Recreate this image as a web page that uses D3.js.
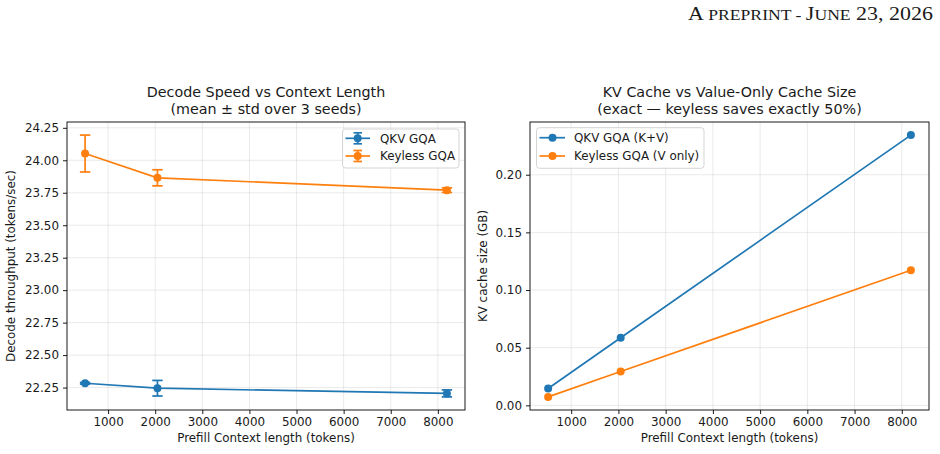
<!DOCTYPE html>
<html>
<head>
<meta charset="utf-8">
<script src="https://cdn.jsdelivr.net/npm/d3@7"></script>
<style>
  html, body { margin: 0; padding: 0; background: #fff; }
  svg { display: block; }
  text { font-family: "DejaVu Sans", sans-serif; fill: #1a1a1a; }
</style>
</head>
<body>
<svg id="chart" width="940" height="454"></svg>
<script>
// ---------------- data ----------------
const contextLengths = [512, 2048, 8192];
const xTicks = [1000, 2000, 3000, 4000, 5000, 6000, 7000, 8000];

const qkvSpeed = [22.283, 22.245, 22.205];
const qkvSpeedStd = [0.006, 0.060, 0.027];
const keylessSpeed = [24.052, 23.865, 23.770];
const keylessSpeedStd = [0.142, 0.062, 0.018];
const speedTicks = [22.25, 22.50, 22.75, 23.00, 23.25, 23.50, 23.75, 24.00, 24.25];

const qkvCacheGB = [0.0146484, 0.0585938, 0.234375];
const keylessCacheGB = [0.0073242, 0.0292969, 0.1171875];
const cacheTicks = [0.00, 0.05, 0.10, 0.15, 0.20];

const seriesNames = ["QKV GQA", "Keyless GQA"];
const cacheNames = ["QKV GQA (K+V)", "Keyless GQA (V only)"];
const colors = ["#1f77b4", "#ff7f0e"];

// ---------------- helpers ----------------
const svg = d3.select("#chart");
const FS = 11.9, TFS = 14.3;

function padDomain(lo, hi) { const p = (hi - lo) * 0.05; return [lo - p, hi + p]; }

function drawAxes(g, x, y, yTicks, yFmt, L, R, T, B) {
  g.append("g").selectAll("line").data(xTicks).join("line")
    .attr("x1", d => x(d)).attr("x2", d => x(d)).attr("y1", T).attr("y2", B)
    .attr("stroke", "#b0b0b0").attr("stroke-opacity", 0.3).attr("stroke-width", 0.9);
  g.append("g").selectAll("line").data(yTicks).join("line")
    .attr("x1", L).attr("x2", R).attr("y1", d => y(d)).attr("y2", d => y(d))
    .attr("stroke", "#b0b0b0").attr("stroke-opacity", 0.3).attr("stroke-width", 0.9);
  const xa = g.append("g").attr("transform", `translate(0,${B})`)
    .call(d3.axisBottom(x).tickValues(xTicks).tickFormat(d3.format("d")).tickSize(4).tickPadding(4));
  const ya = g.append("g").attr("transform", `translate(${L},0)`)
    .call(d3.axisLeft(y).tickValues(yTicks).tickFormat(yFmt).tickSize(4).tickPadding(4));
  [xa, ya].forEach(a => {
    a.select(".domain").remove();
    a.selectAll("line").attr("stroke", "#000").attr("stroke-width", 0.9);
    a.selectAll("text").attr("font-size", FS).attr("font-family", "DejaVu Sans").attr("fill", "#1a1a1a");
  });
  xa.selectAll("text").attr("dy", "0.71em").attr("y", 7.5);
}

function frame(g, L, R, T, B) {
  g.append("rect").attr("x", L).attr("y", T).attr("width", R - L).attr("height", B - T)
    .attr("fill", "none").attr("stroke", "#000").attr("stroke-width", 0.9);
}

// ---------------- header (small caps built from tspans) ----------------
{
  const headerParts = [["A", true], [" preprint - ", false], ["J", true], ["une", false], [" 23, 2026", true]];
  const ht = svg.append("text").attr("x", 688).attr("y", 20)
    .attr("textLength", 245).attr("lengthAdjust", "spacingAndGlyphs")
    .style("font-family", "'Liberation Serif', serif").attr("fill", "#111");
  headerParts.forEach(([s, big]) => {
    ht.append("tspan").attr("font-size", big ? 19.2 : 15.4).text(big ? s : s.toUpperCase());
  });
}

// ---------------- left plot ----------------
{
  const L = 67, R = 465, T = 122, B = 410;
  const g = svg.append("g");
  const x = d3.scaleLinear().domain(padDomain(d3.min(contextLengths), d3.max(contextLengths))).range([L, R]);
  const lo = d3.min([...qkvSpeed.map((v, i) => v - qkvSpeedStd[i]), ...keylessSpeed.map((v, i) => v - keylessSpeedStd[i])]);
  const hi = d3.max([...qkvSpeed.map((v, i) => v + qkvSpeedStd[i]), ...keylessSpeed.map((v, i) => v + keylessSpeedStd[i])]);
  const y = d3.scaleLinear().domain(padDomain(lo, hi)).range([B, T]);
  drawAxes(g, x, y, speedTicks, d3.format(".2f"), L, R, T, B);

  const series = [[qkvSpeed, qkvSpeedStd], [keylessSpeed, keylessSpeedStd]];
  series.forEach(([vals, errs], si) => {
    const c = colors[si];
    const pts = contextLengths.map((xv, i) => ({ x: xv, y: vals[i], e: errs[i] }));
    g.append("path").datum(pts)
      .attr("d", d3.line().x(d => x(d.x)).y(d => y(d.y)))
      .attr("fill", "none").attr("stroke", c).attr("stroke-width", 1.7);
    const eg = g.append("g").attr("stroke", c).attr("stroke-width", 1.7);
    pts.forEach(d => {
      const cx = x(d.x), y1 = y(d.y + d.e), y2 = y(d.y - d.e);
      eg.append("line").attr("x1", cx).attr("x2", cx).attr("y1", y1).attr("y2", y2);
      eg.append("line").attr("x1", cx - 5.2).attr("x2", cx + 5.2).attr("y1", y1).attr("y2", y1);
      eg.append("line").attr("x1", cx - 5.2).attr("x2", cx + 5.2).attr("y1", y2).attr("y2", y2);
    });
    g.append("g").selectAll("circle").data(pts).join("circle")
      .attr("cx", d => x(d.x)).attr("cy", d => y(d.y)).attr("r", 4).attr("fill", c);
  });
  frame(g, L, R, T, B);

  g.append("text").attr("x", (L + R) / 2).attr("y", 97).attr("text-anchor", "middle").attr("font-size", TFS)
    .text("Decode Speed vs Context Length");
  g.append("text").attr("x", (L + R) / 2).attr("y", 113.6).attr("text-anchor", "middle").attr("font-size", TFS)
    .text("(mean ± std over 3 seeds)");
  g.append("text").attr("x", (L + R) / 2).attr("y", 442).attr("text-anchor", "middle").attr("font-size", FS)
    .text("Prefill Context length (tokens)");
  g.append("text").attr("transform", `translate(15,${(T + B) / 2}) rotate(-90)`).attr("text-anchor", "middle").attr("font-size", FS)
    .text("Decode throughput (tokens/sec)");

  const lx = 342.5, ly = 129, lw = 116.5, lh = 39;
  g.append("rect").attr("x", lx).attr("y", ly).attr("width", lw).attr("height", lh).attr("rx", 3)
    .attr("fill", "#fff").attr("fill-opacity", 0.8).attr("stroke", "#d0d0d0").attr("stroke-width", 0.9);
  seriesNames.forEach((nm, i) => {
    const yy = 138.3 + i * 17.7, c = colors[i];
    const hg = g.append("g").attr("stroke", c).attr("stroke-width", 1.7);
    hg.append("line").attr("x1", 345.5).attr("x2", 370).attr("y1", yy).attr("y2", yy);
    hg.append("line").attr("x1", 357.7).attr("x2", 357.7).attr("y1", yy - 5.5).attr("y2", yy + 5.5);
    hg.append("line").attr("x1", 353.5).attr("x2", 362).attr("y1", yy - 5.5).attr("y2", yy - 5.5);
    hg.append("line").attr("x1", 353.5).attr("x2", 362).attr("y1", yy + 5.5).attr("y2", yy + 5.5);
    g.append("circle").attr("cx", 357.7).attr("cy", yy).attr("r", 4).attr("fill", c);
    g.append("text").attr("x", 380).attr("y", yy + 4.3).attr("font-size", FS).text(nm);
  });
}

// ---------------- right plot ----------------
{
  const L = 530, R = 929, T = 122, B = 410;
  const g = svg.append("g");
  const x = d3.scaleLinear().domain(padDomain(d3.min(contextLengths), d3.max(contextLengths))).range([L, R]);
  const lo = d3.min([...qkvCacheGB, ...keylessCacheGB]);
  const hi = d3.max([...qkvCacheGB, ...keylessCacheGB]);
  const y = d3.scaleLinear().domain(padDomain(lo, hi)).range([B, T]);
  drawAxes(g, x, y, cacheTicks, d3.format(".2f"), L, R, T, B);

  [qkvCacheGB, keylessCacheGB].forEach((vals, si) => {
    const c = colors[si];
    const pts = contextLengths.map((xv, i) => ({ x: xv, y: vals[i] }));
    g.append("path").datum(pts)
      .attr("d", d3.line().x(d => x(d.x)).y(d => y(d.y)))
      .attr("fill", "none").attr("stroke", c).attr("stroke-width", 1.7);
    g.append("g").selectAll("circle").data(pts).join("circle")
      .attr("cx", d => x(d.x)).attr("cy", d => y(d.y)).attr("r", 4).attr("fill", c);
  });
  frame(g, L, R, T, B);

  g.append("text").attr("x", (L + R) / 2).attr("y", 97).attr("text-anchor", "middle").attr("font-size", TFS)
    .text("KV Cache vs Value-Only Cache Size");
  g.append("text").attr("x", (L + R) / 2).attr("y", 113.6).attr("text-anchor", "middle").attr("font-size", TFS)
    .text("(exact — keyless saves exactly 50%)");
  g.append("text").attr("x", (L + R) / 2).attr("y", 442).attr("text-anchor", "middle").attr("font-size", FS)
    .text("Prefill Context length (tokens)");
  g.append("text").attr("transform", `translate(487,${(T + B) / 2}) rotate(-90)`).attr("text-anchor", "middle").attr("font-size", FS)
    .text("KV cache size (GB)");

  const lx = 536.5, ly = 127.7, lw = 167.5, lh = 40.6;
  g.append("rect").attr("x", lx).attr("y", ly).attr("width", lw).attr("height", lh).attr("rx", 3)
    .attr("fill", "#fff").attr("fill-opacity", 0.8).attr("stroke", "#d0d0d0").attr("stroke-width", 0.9);
  cacheNames.forEach((nm, i) => {
    const yy = 137.7 + i * 18.3, c = colors[i];
    g.append("line").attr("x1", 539.5).attr("x2", 565).attr("y1", yy).attr("y2", yy)
      .attr("stroke", c).attr("stroke-width", 1.7);
    g.append("circle").attr("cx", 552.5).attr("cy", yy).attr("r", 4).attr("fill", c);
    g.append("text").attr("x", 574).attr("y", yy + 4.3).attr("font-size", FS).text(nm);
  });
}
</script>
</body>
</html>
